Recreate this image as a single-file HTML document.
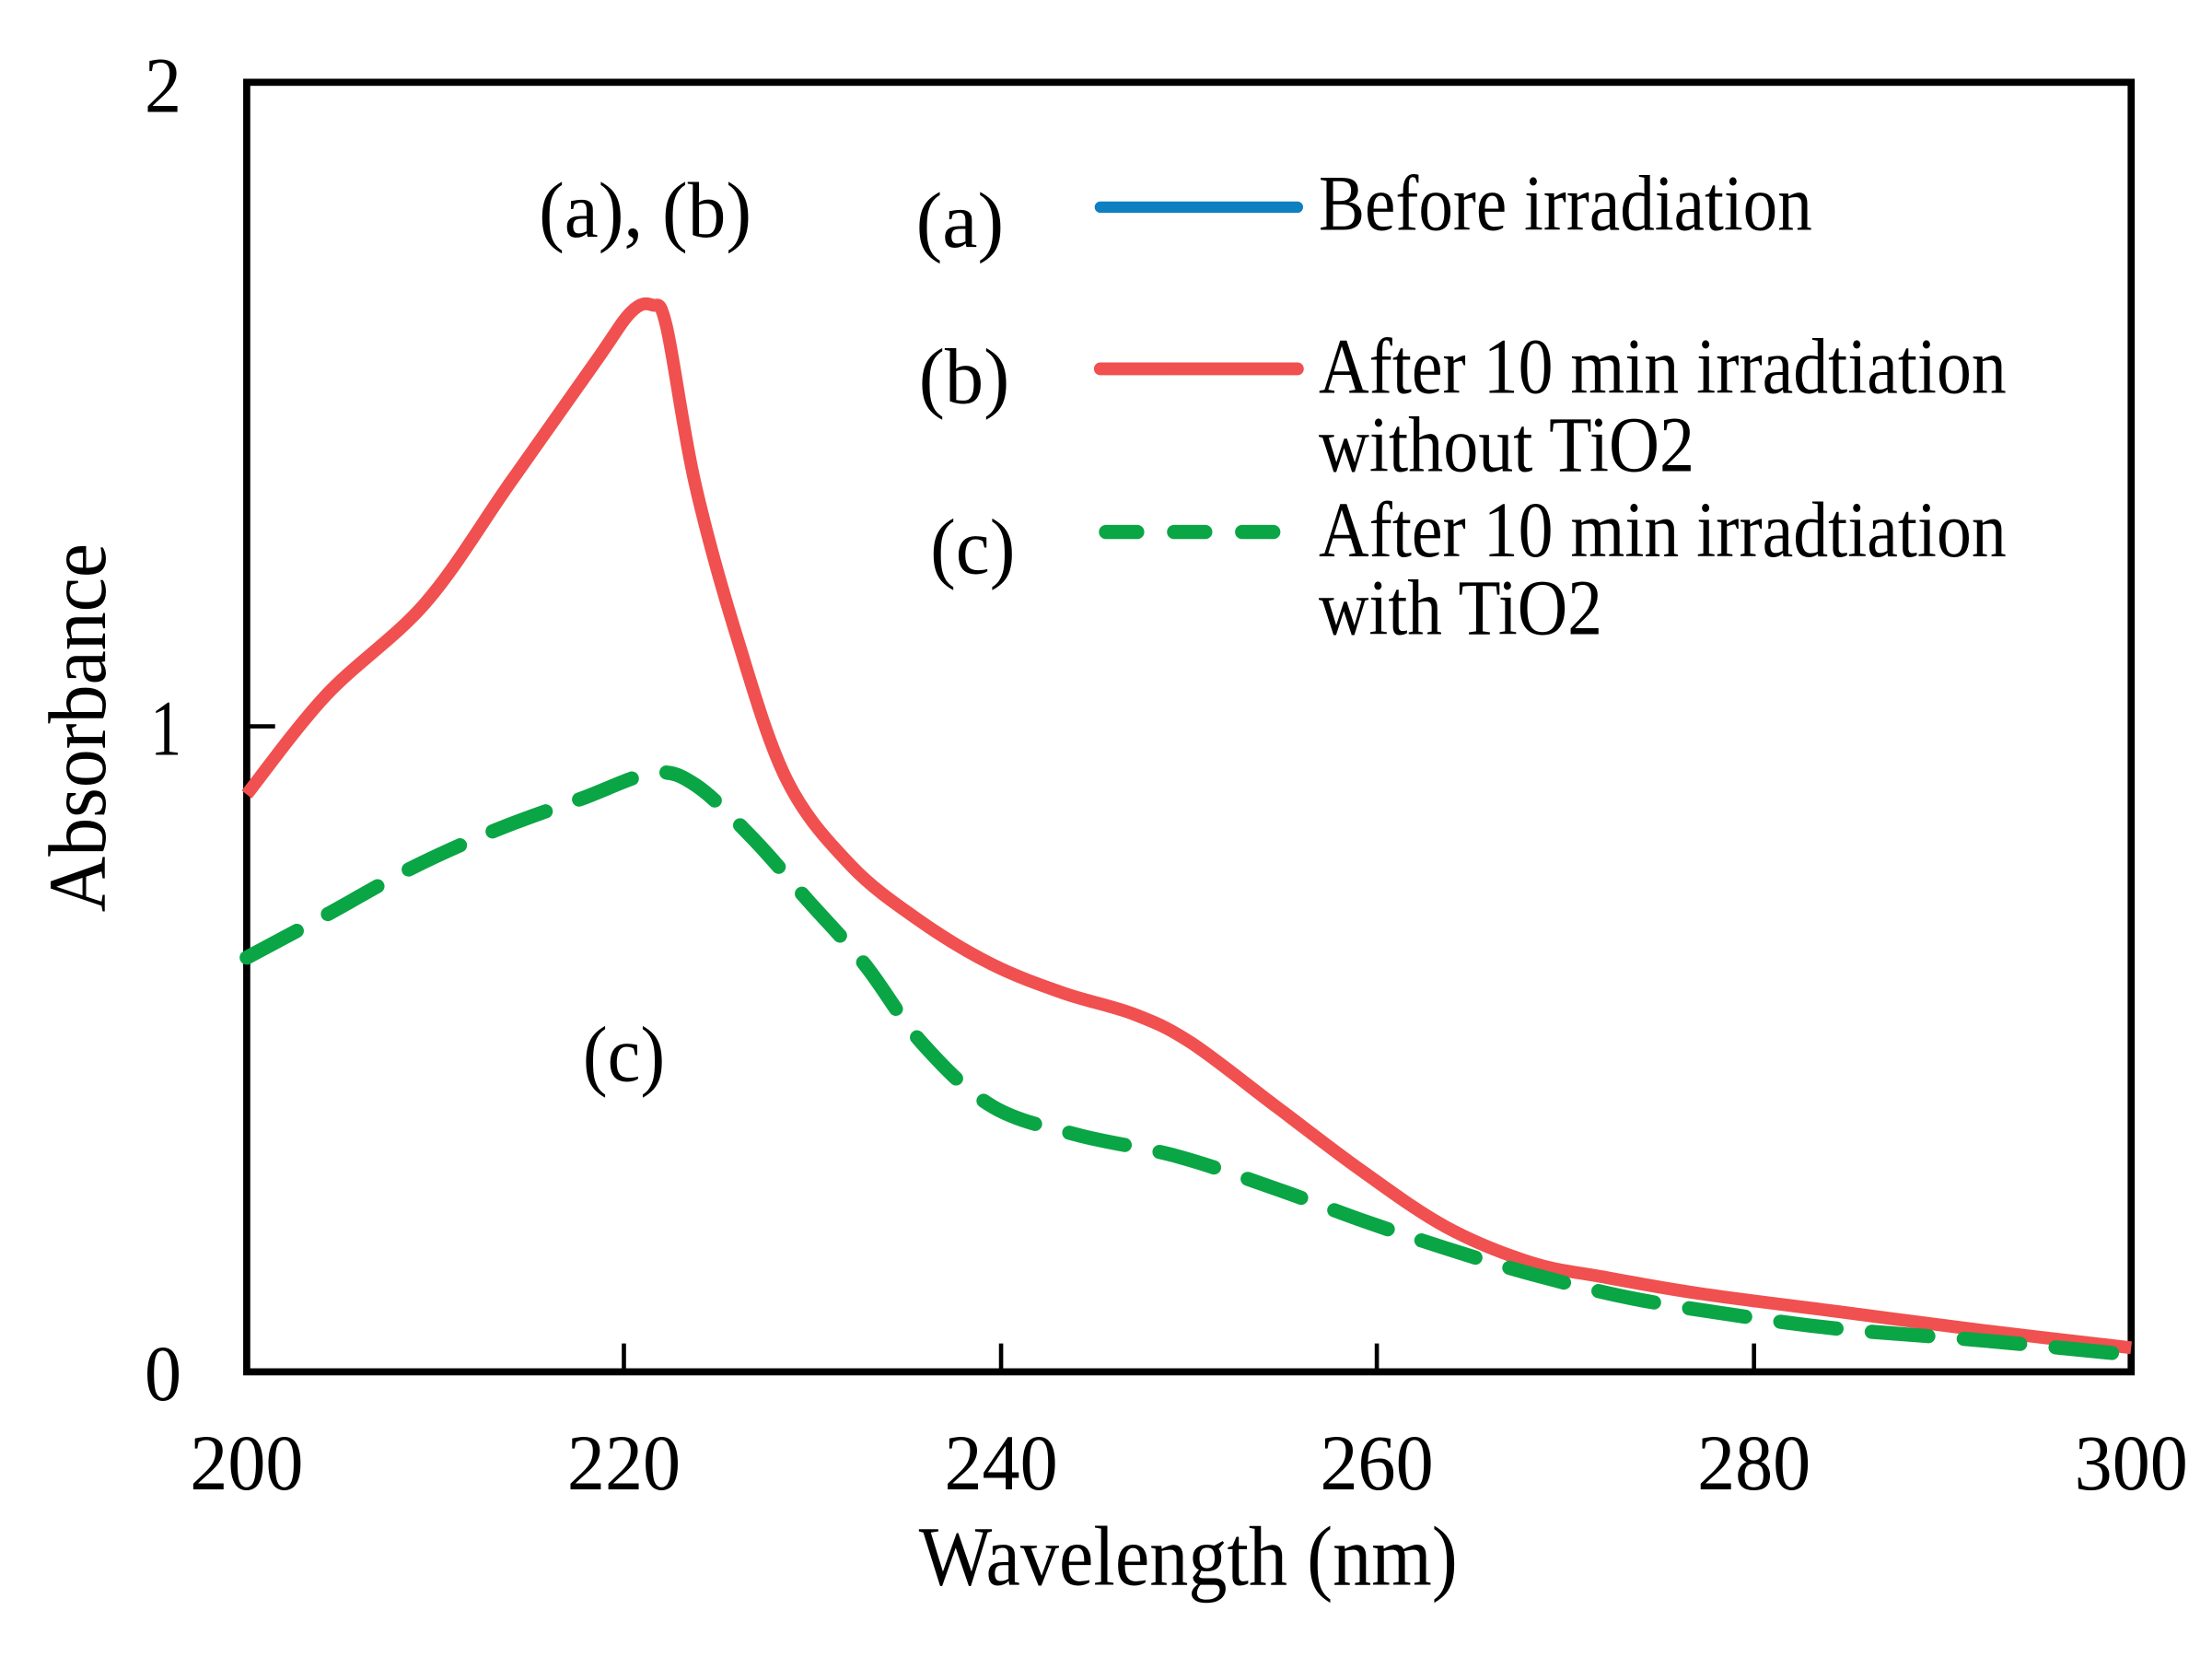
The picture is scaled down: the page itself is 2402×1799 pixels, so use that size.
<!DOCTYPE html>
<html><head><meta charset="utf-8"><style>html,body{margin:0;padding:0;background:#fff;overflow:hidden}svg{display:block}</style></head>
<body>
<svg width="2402" height="1799" viewBox="0 0 1560 1168" preserveAspectRatio="none" xmlns="http://www.w3.org/2000/svg" font-family="Liberation Serif, serif">
<rect width="1560" height="1168" fill="#fff"/>
<g stroke="#000" stroke-width="3">
<line x1="440" y1="967" x2="440" y2="947"/><line x1="706" y1="967" x2="706" y2="947"/><line x1="971" y1="967" x2="971" y2="947"/><line x1="1237" y1="967" x2="1237" y2="947"/>
<line x1="174" y1="512" x2="194" y2="512"/>
</g>
<rect x="174" y="58" width="1329" height="909" fill="none" stroke="#000" stroke-width="5"/>
<path id="red" d="M174,560 L230,490 L300,425 L360,340 L420,255 L445,220 L460,215 L470,230 L490,340 L520,450 L555,550 L600,610 L650,650 L700,680 L750,700 L800,715 L840,735 L900,780 L960,825 L1020,865 L1080,890 L1130,900 L1200,912 L1300,925 L1400,938 L1503,950" fill="none" stroke="#f0504f" stroke-width="9" stroke-linejoin="round"/>
<path id="green" d="M174,675 L230,645 L290,612 L350,585 L410,563 L460,545 L490,553 L530,590 L570,635 L610,680 L650,735 L700,780 L760,800 L830,815 L900,838 L960,860 L1020,880 L1080,898 L1150,915 L1230,928 L1300,937 L1400,945 L1503,955" fill="none" stroke="#0aa545" stroke-width="10" stroke-dasharray="40,25" stroke-linecap="round"/>
<g font-size="56" fill="#000">
<text x="128" y="79" text-anchor="end" textLength="26" lengthAdjust="spacingAndGlyphs">2</text>
<text x="128" y="532" text-anchor="end" textLength="22" lengthAdjust="spacingAndGlyphs">1</text>
<text x="128" y="987" text-anchor="end" textLength="26" lengthAdjust="spacingAndGlyphs">0</text>
<text x="174" y="1050" text-anchor="middle" textLength="80" lengthAdjust="spacingAndGlyphs">200</text>
<text x="440" y="1050" text-anchor="middle" textLength="80" lengthAdjust="spacingAndGlyphs">220</text>
<text x="706" y="1050" text-anchor="middle" textLength="80" lengthAdjust="spacingAndGlyphs">240</text>
<text x="971" y="1050" text-anchor="middle" textLength="80" lengthAdjust="spacingAndGlyphs">260</text>
<text x="1237" y="1050" text-anchor="middle" textLength="80" lengthAdjust="spacingAndGlyphs">280</text>
<text x="1503" y="1050" text-anchor="middle" textLength="80" lengthAdjust="spacingAndGlyphs">300</text>
<text x="838" y="1117" text-anchor="middle" font-size="60" textLength="380" lengthAdjust="spacingAndGlyphs">Wavelength (nm)</text>
<text transform="translate(74,513) rotate(-90)" text-anchor="middle" font-size="58" textLength="260" lengthAdjust="spacingAndGlyphs">Absorbance</text>
<text x="455" y="167" text-anchor="middle" textLength="150" lengthAdjust="spacingAndGlyphs">(a), (b)</text>
<text x="440" y="762" text-anchor="middle" textLength="58" lengthAdjust="spacingAndGlyphs">(c)</text>
<text x="677" y="174" text-anchor="middle" textLength="62" lengthAdjust="spacingAndGlyphs">(a)</text>
<text x="680" y="284" text-anchor="middle" textLength="64" lengthAdjust="spacingAndGlyphs">(b)</text>
<text x="686" y="404" text-anchor="middle" textLength="60" lengthAdjust="spacingAndGlyphs">(c)</text>
<text x="930" y="162" textLength="348" lengthAdjust="spacingAndGlyphs">Before irradiation</text>
<text x="930" y="277" textLength="485" lengthAdjust="spacingAndGlyphs">After 10 min irradtiation</text>
<text x="930" y="332" textLength="265" lengthAdjust="spacingAndGlyphs">without TiO2</text>
<text x="930" y="392" textLength="485" lengthAdjust="spacingAndGlyphs">After 10 min irradtiation</text>
<text x="930" y="447" textLength="200" lengthAdjust="spacingAndGlyphs">with TiO2</text>
</g>
<line x1="776" y1="146" x2="915" y2="146" stroke="#0e7fc0" stroke-width="8" stroke-linecap="round"/>
<line x1="776" y1="260" x2="915" y2="260" stroke="#f0504f" stroke-width="9" stroke-linecap="round"/>
<line x1="780" y1="375" x2="915" y2="375" stroke="#0aa545" stroke-width="10" stroke-dasharray="22,26" stroke-linecap="round"/>
</svg>
<script>
['red','green'].forEach(function(id){
var el=document.getElementById(id);
var pts=el.getAttribute('d').replace(/[ML]/g,' ').trim().split(/\s+/).map(function(s){return s.split(',').map(Number);});
var d='M'+pts[0][0]+','+pts[0][1];
for(var i=0;i<pts.length-1;i++){
var p0=pts[i-1]||pts[i],p1=pts[i],p2=pts[i+1],p3=pts[i+2]||p2;
var c1=[p1[0]+(p2[0]-p0[0])/6,p1[1]+(p2[1]-p0[1])/6];
var c2=[p2[0]-(p3[0]-p1[0])/6,p2[1]-(p3[1]-p1[1])/6];
d+=' C'+c1[0]+','+c1[1]+' '+c2[0]+','+c2[1]+' '+p2[0]+','+p2[1];
}
el.setAttribute('d',d);
});
</script>
</body></html>
